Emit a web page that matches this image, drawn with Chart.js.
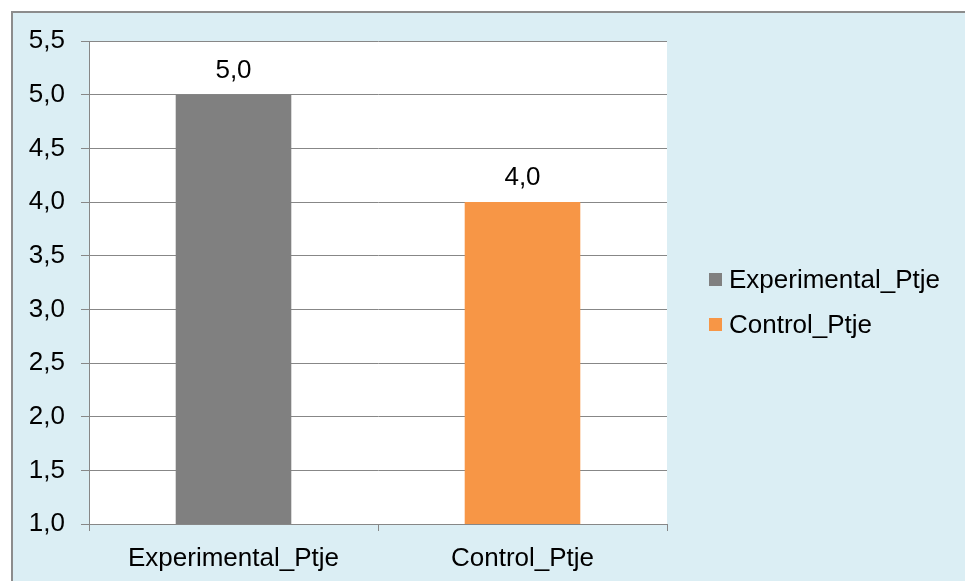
<!DOCTYPE html>
<html>
<head>
<meta charset="utf-8">
<script src="https://cdn.jsdelivr.net/npm/chart.js@4.4.1/dist/chart.umd.min.js"></script>
<style>
  html, body { margin: 0; padding: 0; background: #ffffff; }
  #wrap { width: 965px; height: 581px; position: relative; }
</style>
</head>
<body>
<div id="wrap"><canvas id="c" width="965" height="581"></canvas></div>
<script>
// Categories and values
const categories = ['Experimental_Ptje', 'Control_Ptje'];
const scores = [5.0, 4.0];
const barColors = ['#808080', '#F79646'];
const yTicks = [1.0, 1.5, 2.0, 2.5, 3.0, 3.5, 4.0, 4.5, 5.0, 5.5];

const FONT = '"Liberation Sans", Arial, sans-serif';
const FONT_SIZE = 26;
const fmt = v => v.toFixed(1).replace('.', ',');

// Frame, panel background and white plotting area
const backdrop = {
  id: 'backdrop',
  beforeDraw(chart) {
    const { ctx, chartArea: a } = chart;
    ctx.save();
    ctx.fillStyle = '#ffffff';
    ctx.fillRect(0, 0, chart.width, chart.height);
    ctx.fillStyle = '#DBEEF4';
    ctx.fillRect(12, 12, chart.width, chart.height);
    ctx.strokeStyle = '#8C8C8C';
    ctx.lineWidth = 2;
    ctx.strokeRect(12, 12, chart.width + 10, chart.height + 10);
    ctx.fillStyle = '#ffffff';
    ctx.fillRect(a.left, a.top, a.right - a.left, a.bottom - a.top);
    ctx.restore();
  }
};

// Value labels above bars and the legend on the right
const annotate = {
  id: 'annotate',
  afterDraw(chart) {
    const { ctx } = chart;
    const meta = chart.getDatasetMeta(0);
    ctx.save();
    ctx.font = FONT_SIZE + 'px ' + FONT;
    ctx.fillStyle = '#000000';
    ctx.textAlign = 'center';
    ctx.textBaseline = 'middle';
    meta.data.forEach((bar, i) => {
      ctx.fillText(fmt(scores[i]), bar.x, bar.y - 24);
    });
    // legend
    const lx = 709, ly0 = 279, gap = 45;
    ctx.textAlign = 'left';
    categories.forEach((name, i) => {
      const y = ly0 + i * gap;
      ctx.fillStyle = barColors[i];
      ctx.fillRect(lx, y - 6, 13, 13);
      ctx.fillStyle = '#000000';
      ctx.fillText(name, lx + 20, y + 2);
    });
    ctx.restore();
  }
};

new Chart(document.getElementById('c'), {
  type: 'bar',
  data: {
    labels: categories,
    datasets: [{
      data: scores,
      backgroundColor: barColors,
      borderWidth: 0,
      barPercentage: 0.8,
      categoryPercentage: 0.5
    }]
  },
  options: {
    responsive: false,
    animation: false,
    devicePixelRatio: 1,
    layout: { padding: { left: 0, right: 298, top: 41, bottom: 0 } },
    plugins: { legend: { display: false }, tooltip: { enabled: false } },
    scales: {
      x: {
        offset: true,
        grid: {
          offset: true,
          drawOnChartArea: false,
          drawTicks: true,
          tickLength: 7,
          color: '#878787'
        },
        border: { display: false },
        ticks: {
          color: '#000000',
          font: { family: FONT, size: FONT_SIZE },
          padding: 12,
          maxRotation: 0,
          autoSkip: false
        },
        afterFit(s) { s.height = 57; }
      },
      y: {
        min: 1,
        max: 5.5,
        afterBuildTicks(s) { s.ticks = yTicks.map(v => ({ value: v })); },
        grid: {
          color: '#878787',
          tickLength: 8,
          lineWidth: 1
        },
        border: { display: true, color: '#878787', width: 1 },
        ticks: {
          color: '#000000',
          font: { family: FONT, size: FONT_SIZE },
          padding: 16,
          autoSkip: false,
          callback: v => fmt(v)
        },
        afterFit(s) { s.width = 89; }
      }
    }
  },
  plugins: [backdrop, annotate]
});
</script>
</body>
</html>
